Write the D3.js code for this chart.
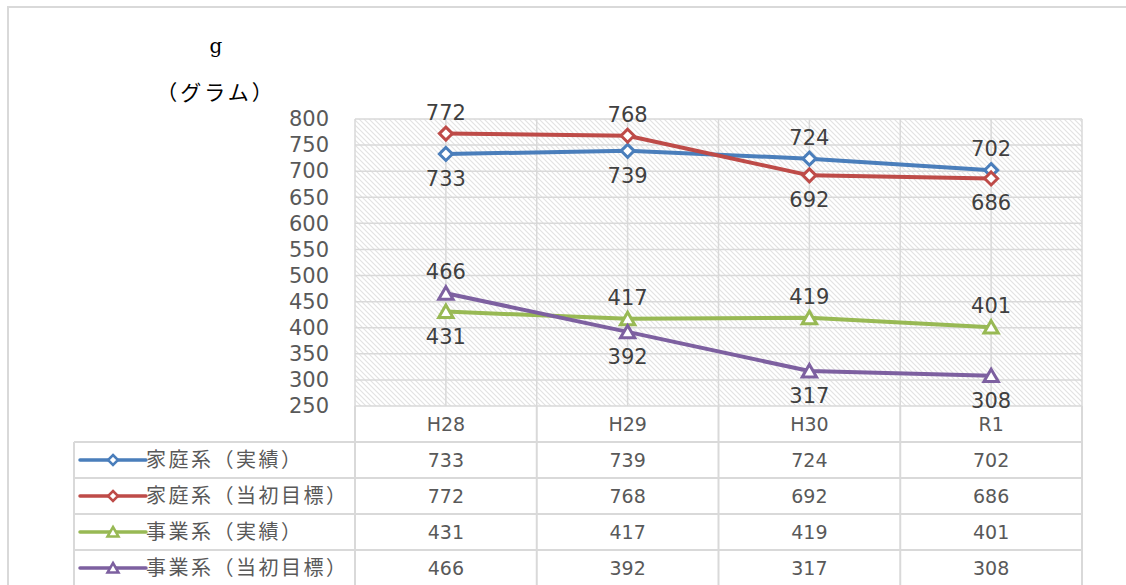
<!DOCTYPE html>
<html>
<head>
<meta charset="utf-8">
<script src="https://cdn.jsdelivr.net/npm/d3@7"></script>
<style>
  body { margin: 0; background: #fff; }
  svg { display: block; }
</style>
</head>
<body>
<div id="chart"></div>
<script>
var categories = ["H28", "H29", "H30", "R1"];
var seriesNames = ["家庭系（実績）", "家庭系（当初目標）", "事業系（実績）", "事業系（当初目標）"];
var katei_jisseki = [733, 739, 724, 702];
var katei_mokuhyo = [772, 768, 692, 686];
var jigyo_jisseki = [431, 417, 419, 401];
var jigyo_mokuhyo = [466, 392, 317, 308];
var yTicks = [250, 300, 350, 400, 450, 500, 550, 600, 650, 700, 750, 800];

var svgWidth = 1126;
var svgHeight = 585;

var plot = { left: 355, right: 1082, top: 119, bottom: 406 };
var rowH = 36;
var tableLeft = 74;
var gridColor = "#d9d9d9";

var series = [
    { name: seriesNames[0], values: katei_jisseki, color: "#4a7ebb", shape: "diamond", pair: 1 },
    { name: seriesNames[1], values: katei_mokuhyo, color: "#be4b48", shape: "diamond", pair: 0 },
    { name: seriesNames[2], values: jigyo_jisseki, color: "#98b954", shape: "triangle", pair: 3 },
    { name: seriesNames[3], values: jigyo_mokuhyo, color: "#7d60a0", shape: "triangle", pair: 2 }
];

var svg = d3.select("#chart")
    .append("svg")
    .attr("width", svgWidth)
    .attr("height", svgHeight);

// hatch pattern for plot background
var defs = svg.append("defs");
var pat = defs.append("pattern")
    .attr("id", "hatch")
    .attr("patternUnits", "userSpaceOnUse")
    .attr("width", 5)
    .attr("height", 5);
pat.append("rect").attr("width", 5).attr("height", 5).attr("fill", "#fff");
pat.append("path")
    .attr("d", "M-1,-1 L6,6 M-1,4 L1,6 M4,-1 L6,1")
    .attr("stroke", "#e2e2e2")
    .attr("stroke-width", 1.1);

// outer frame (top and left edges only visible)
svg.append("path")
    .attr("d", "M8,600 L8,7 L1130,7")
    .attr("fill", "none")
    .attr("stroke", gridColor)
    .attr("stroke-width", 2);

var x = d3.scaleBand()
    .domain(categories)
    .range([plot.left, plot.right]);
var cx = c => x(c) + x.bandwidth() / 2;

var y = d3.scaleLinear()
    .domain([250, 800])
    .range([plot.bottom, plot.top]);

svg.append("rect")
    .attr("x", plot.left)
    .attr("y", plot.top)
    .attr("width", plot.right - plot.left)
    .attr("height", plot.bottom - plot.top)
    .attr("fill", "url(#hatch)");

// gridlines
var grid = svg.append("g");
grid.selectAll("line.h")
    .data(yTicks)
    .enter()
    .append("line")
    .attr("x1", plot.left).attr("x2", plot.right)
    .attr("y1", d => y(d)).attr("y2", d => y(d))
    .attr("stroke", gridColor)
    .attr("stroke-width", 1.5);

var vlines = [];
categories.forEach(function(c) { vlines.push(x(c)); vlines.push(cx(c)); });
vlines.push(plot.right);
grid.selectAll("line.v")
    .data(vlines)
    .enter()
    .append("line")
    .attr("x1", d => d).attr("x2", d => d)
    .attr("y1", plot.top).attr("y2", plot.bottom)
    .attr("stroke", gridColor)
    .attr("stroke-width", 1.5);

// y axis labels
var leftAxis = d3.axisLeft(y).tickValues(yTicks).tickSize(0).tickPadding(26);
var yAxis = svg.append("g")
    .attr("transform", `translate(${plot.left},0)`)
    .call(leftAxis);
yAxis.select(".domain").remove();
yAxis.selectAll("text")
    .attr("fill", "#595959")
    .style("font-family", "'DejaVu Sans', sans-serif")
    .style("font-size", "21px");

// unit labels
svg.append("text")
    .attr("x", 216).attr("y", 53)
    .attr("text-anchor", "middle")
    .style("font-family", "'DejaVu Serif', serif")
    .style("font-size", "20px")
    .attr("fill", "#000")
    .text("g");
svg.append("text")
    .attr("x", 216).attr("y", 100)
    .attr("text-anchor", "middle")
    .style("font-family", "'Noto Sans CJK JP', sans-serif")
    .style("font-size", "21px")
    .style("letter-spacing", "3px")
    .attr("fill", "#000")
    .text("（グラム）");

function markerPath(shape, s) {
    if (shape === "diamond") {
        return `M0,${-s} L${s},0 L0,${s} L${-s},0 Z`;
    }
    return `M0,${-s} L${s * 1.1},${s * 0.9} L${-s * 1.1},${s * 0.9} Z`;
}

// lines
var line = d3.line()
    .x((d, i) => cx(categories[i]))
    .y(d => y(d));

series.forEach(function(s) {
    svg.append("path")
        .datum(s.values)
        .attr("d", line)
        .attr("fill", "none")
        .attr("stroke", s.color)
        .attr("stroke-width", 4)
        .attr("stroke-linejoin", "round");
});

series.forEach(function(s) {
    var other = series[s.pair].values;
    svg.selectAll(null)
        .data(s.values)
        .enter()
        .append("path")
        .attr("d", markerPath(s.shape, 6.5))
        .attr("transform", (d, i) => `translate(${cx(categories[i])},${y(d)})`)
        .attr("fill", "#fff")
        .attr("stroke", s.color)
        .attr("stroke-width", 3);

    svg.selectAll(null)
        .data(s.values)
        .enter()
        .append("text")
        .attr("x", (d, i) => cx(categories[i]))
        .attr("y", (d, i) => d >= other[i] ? y(d) - 14 : y(d) + 32)
        .attr("text-anchor", "middle")
        .attr("fill", "#404040")
        .style("font-family", "'DejaVu Sans', sans-serif")
        .style("font-size", "21px")
        .text(d => d);
});

// data table
var table = svg.append("g");
var tableTop = plot.bottom;
var tableLines = [];
tableLines.push([plot.left, tableTop, plot.left, tableTop + rowH * 5]);
tableLines.push([plot.right, tableTop, plot.right, tableTop + rowH * 5]);
categories.forEach(function(c, i) {
    if (i > 0) tableLines.push([x(c), tableTop, x(c), tableTop + rowH * 5]);
});
for (var r = 1; r <= 5; r++) {
    tableLines.push([tableLeft, tableTop + rowH * r, plot.right, tableTop + rowH * r]);
}
tableLines.push([tableLeft, tableTop + rowH, tableLeft, tableTop + rowH * 5]);

table.selectAll("line")
    .data(tableLines)
    .enter()
    .append("line")
    .attr("x1", d => d[0]).attr("y1", d => d[1])
    .attr("x2", d => d[2]).attr("y2", d => d[3])
    .attr("stroke", gridColor)
    .attr("stroke-width", 2);

table.selectAll("text.cat")
    .data(categories)
    .enter()
    .append("text")
    .attr("x", d => cx(d))
    .attr("y", tableTop + rowH / 2 + 7)
    .attr("text-anchor", "middle")
    .attr("fill", "#595959")
    .style("font-family", "'DejaVu Sans', sans-serif")
    .style("font-size", "19px")
    .text(d => d);

series.forEach(function(s, si) {
    var rowY = tableTop + rowH * (si + 1);
    table.selectAll(null)
        .data(s.values)
        .enter()
        .append("text")
        .attr("x", (d, i) => cx(categories[i]))
        .attr("y", rowY + rowH / 2 + 7)
        .attr("text-anchor", "middle")
        .attr("fill", "#595959")
        .style("font-family", "'DejaVu Sans', sans-serif")
        .style("font-size", "19px")
        .text(d => d);

    var my = rowY + rowH / 2;
    table.append("line")
        .attr("x1", 80).attr("x2", 146)
        .attr("y1", my).attr("y2", my)
        .attr("stroke", s.color)
        .attr("stroke-width", 3.5)
        .attr("stroke-linecap", "round");
    table.append("path")
        .attr("d", markerPath(s.shape, 5))
        .attr("transform", `translate(113,${my})`)
        .attr("fill", "#fff")
        .attr("stroke", s.color)
        .attr("stroke-width", 2.5);
    table.append("text")
        .attr("x", 146)
        .attr("y", my + 7)
        .attr("fill", "#595959")
        .style("font-family", "'Noto Sans CJK JP', sans-serif")
        .style("font-size", "20px")
        .style("letter-spacing", "2.5px")
        .text(s.name);
});
</script>
</body>
</html>
